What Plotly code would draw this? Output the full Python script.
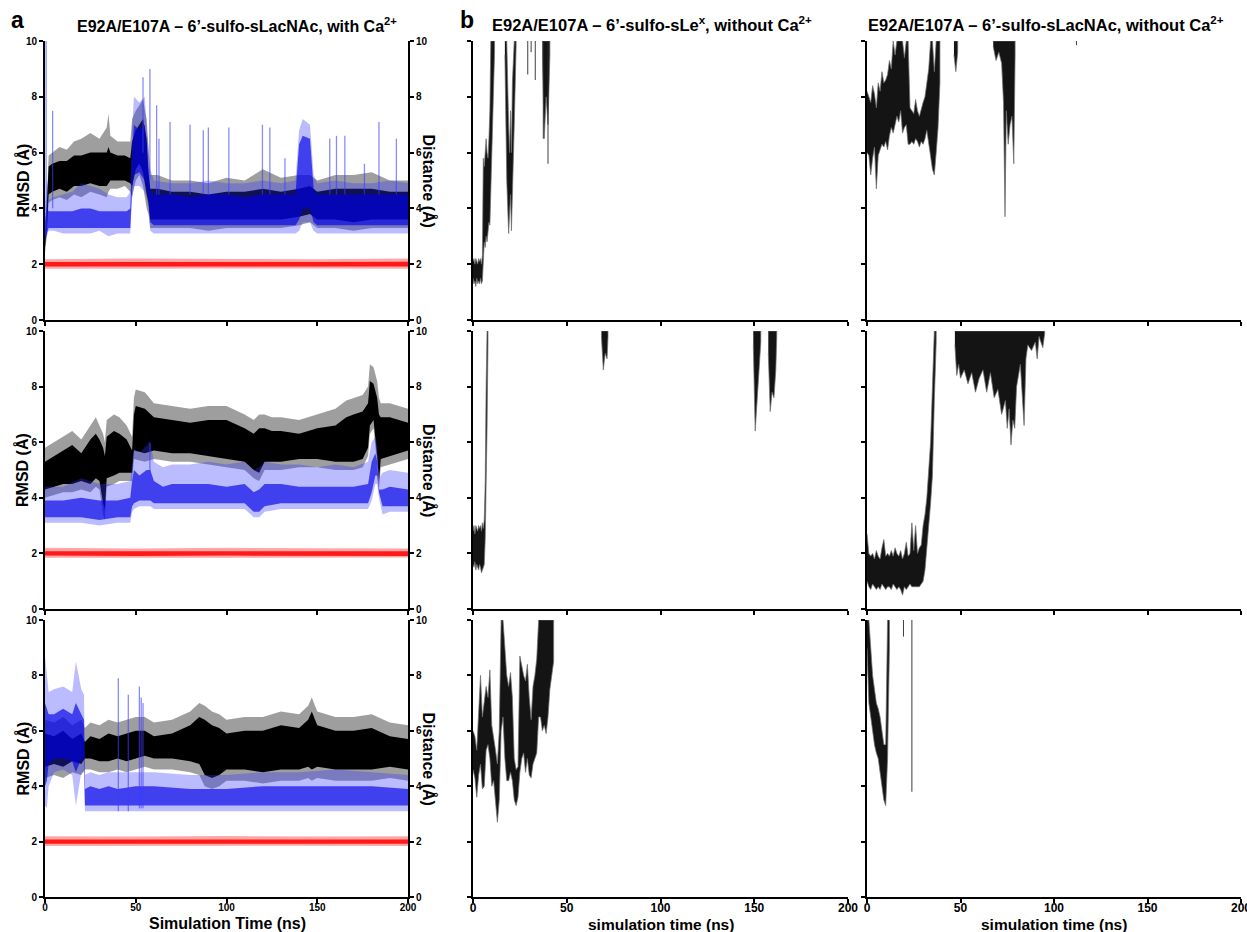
import plotly.graph_objects as go

W, H = 1247, 932

# ---------------- DATA ----------------
# Panel a, row 1
A1_BLACK_T = [0, 1, 2, 4, 8, 12, 16, 20, 25, 30, 34, 35, 36, 40, 44, 47, 48, 50, 52, 54, 56, 57, 58, 62, 70, 80, 90, 100, 110, 120, 130, 140, 146, 150, 160, 170, 180, 190, 200]
A1_BLACK_LO = [2.4, 3.0, 4.2, 4.3, 4.4, 4.3, 4.5, 4.4, 4.6, 4.5, 4.4, 4.6, 4.7, 4.7, 4.8, 4.6, 4.4, 5.0, 5.2, 4.8, 4.0, 3.8, 3.3, 3.3, 3.3, 3.3, 3.2, 3.3, 3.3, 3.3, 3.3, 3.4, 3.5, 3.3, 3.3, 3.2, 3.3, 3.3, 3.3]
A1_BLACK_HI = [3.0, 4.2, 5.9, 6.0, 6.2, 6.1, 6.4, 6.5, 6.7, 6.5, 6.9, 7.4, 6.6, 6.4, 6.4, 6.4, 7.2, 7.5, 7.7, 7.9, 7.2, 6.0, 5.2, 5.2, 5.0, 5.0, 4.9, 5.1, 5.0, 5.4, 5.1, 5.2, 5.2, 5.0, 5.2, 5.2, 5.3, 5.0, 5.0]
A1_BLACK_CLO = [2.6, 3.3, 4.5, 4.6, 4.7, 4.6, 4.8, 4.8, 4.9, 4.8, 4.8, 4.9, 5.0, 5.0, 5.0, 4.9, 4.8, 5.4, 5.6, 5.3, 4.5, 4.2, 3.6, 3.6, 3.6, 3.6, 3.6, 3.6, 3.6, 3.6, 3.6, 3.7, 3.8, 3.6, 3.6, 3.5, 3.6, 3.6, 3.6]
A1_BLACK_CHI = [2.9, 4.0, 5.5, 5.6, 5.7, 5.7, 5.9, 5.9, 6.0, 6.0, 6.0, 6.2, 6.0, 5.9, 5.9, 5.8, 6.4, 6.8, 7.0, 7.2, 6.5, 5.3, 4.7, 4.7, 4.6, 4.6, 4.5, 4.6, 4.6, 4.7, 4.6, 4.7, 4.8, 4.6, 4.7, 4.7, 4.7, 4.6, 4.6]

A1_BLUE_T = [0, 1, 2, 5, 10, 15, 20, 25, 30, 35, 40, 45, 47, 48, 49, 52, 55, 56, 57, 58, 60, 70, 80, 90, 100, 110, 120, 130, 138, 140, 142, 146, 148, 150, 160, 170, 180, 190, 200]
A1_BLUE_LO = [2.8, 3.0, 3.2, 3.2, 3.1, 3.1, 3.1, 3.1, 3.2, 3.0, 3.1, 3.1, 3.1, 4.4, 4.8, 4.8, 4.6, 4.4, 4.0, 3.2, 3.1, 3.1, 3.1, 3.1, 3.1, 3.1, 3.1, 3.1, 3.1, 3.2, 3.5, 3.5, 3.2, 3.1, 3.1, 3.1, 3.1, 3.1, 3.1]
A1_BLUE_HI = [4.0, 5.0, 4.3, 4.4, 4.5, 4.6, 4.9, 4.8, 4.7, 4.5, 4.4, 4.4, 4.6, 6.8, 8.0, 7.8, 8.0, 6.8, 6.0, 5.4, 5.0, 4.9, 4.9, 5.0, 4.9, 4.9, 5.0, 4.9, 5.0, 6.8, 7.2, 7.0, 5.2, 4.9, 5.0, 4.9, 4.9, 5.0, 4.9]
A1_BLUE_CLO = [2.9, 3.1, 3.3, 3.3, 3.3, 3.3, 3.3, 3.3, 3.3, 3.3, 3.3, 3.3, 3.3, 4.7, 5.2, 5.3, 5.0, 4.7, 4.3, 3.5, 3.4, 3.4, 3.4, 3.4, 3.4, 3.4, 3.4, 3.4, 3.4, 3.6, 4.0, 4.0, 3.5, 3.4, 3.4, 3.4, 3.4, 3.4, 3.4]
A1_BLUE_CHI = [3.6, 4.0, 3.9, 3.9, 3.9, 3.9, 4.0, 4.0, 3.9, 3.9, 3.9, 3.9, 4.0, 6.0, 7.0, 6.8, 7.0, 6.0, 5.3, 4.6, 4.5, 4.5, 4.4, 4.5, 4.5, 4.4, 4.5, 4.5, 4.5, 6.3, 6.6, 6.5, 4.7, 4.5, 4.5, 4.5, 4.5, 4.5, 4.5]
A1_SPIKE_T = [0.6, 4.2, 54.0, 57.8, 61.5, 62.8, 68.9, 79.9, 87.2, 90.0, 101.3, 119.8, 123.9, 132.2, 156.9, 160.6, 165.2, 176.0, 184.0, 193.6]
A1_SPIKE_LO = [3.0, 4.0, 6.0, 5.0, 4.5, 4.5, 4.5, 4.5, 4.5, 4.5, 4.5, 4.5, 4.5, 4.5, 4.5, 4.5, 4.5, 4.5, 4.5, 4.5]
A1_SPIKE_HI = [10.0, 7.5, 8.7, 9.0, 7.7, 6.5, 7.1, 7.0, 6.8, 6.9, 6.9, 7.0, 6.9, 5.8, 6.5, 6.6, 6.6, 5.6, 7.1, 6.5]

A1_RED_T = [0, 50, 100, 150, 200]
A1_RED_LO = [1.84, 1.85, 1.84, 1.85, 1.84]
A1_RED_HI = [2.18, 2.2, 2.19, 2.18, 2.2]
A1_RED_CLO = [1.92, 1.92, 1.91, 1.92, 1.92]
A1_RED_CHI = [2.08, 2.09, 2.08, 2.08, 2.09]

# Panel a, row 2
A2_BLACK_T = [0, 5, 10, 15, 20, 25, 28, 30, 32, 33, 34, 38, 41, 45, 48, 49, 50, 55, 60, 70, 80, 90, 100, 110, 115, 118, 121, 125, 130, 140, 150, 160, 166, 170, 175, 178, 179, 181, 183, 184, 185, 190, 195, 200]
A2_BLACK_LO = [4.0, 4.1, 4.2, 4.2, 4.3, 4.2, 4.4, 4.3, 3.4, 3.2, 4.4, 4.5, 4.6, 4.6, 4.6, 5.4, 5.4, 5.3, 5.4, 5.3, 5.3, 5.2, 5.1, 5.0, 4.7, 4.6, 5.0, 5.0, 5.0, 5.1, 5.1, 5.0, 5.0, 5.0, 5.1, 5.5, 6.3, 6.5, 5.2, 4.3, 5.1, 5.2, 5.3, 5.4]
A2_BLACK_HI = [5.8, 6.0, 6.2, 6.4, 6.1, 6.6, 6.9, 6.6, 6.3, 6.0, 6.8, 7.0, 6.9, 6.6, 6.2, 7.6, 7.9, 7.8, 7.4, 7.3, 7.2, 7.3, 7.3, 7.0, 6.8, 7.0, 7.0, 6.9, 6.9, 6.8, 7.0, 7.2, 7.5, 7.6, 7.7, 8.0, 8.8, 8.7, 8.2, 7.6, 7.4, 7.4, 7.3, 7.2]
A2_BLACK_CLO = [4.3, 4.4, 4.5, 4.5, 4.6, 4.5, 4.7, 4.6, 3.8, 3.6, 4.7, 4.8, 4.9, 4.9, 4.9, 5.7, 5.7, 5.6, 5.7, 5.6, 5.6, 5.5, 5.4, 5.3, 5.0, 4.9, 5.3, 5.3, 5.3, 5.4, 5.4, 5.3, 5.3, 5.3, 5.4, 5.8, 6.6, 6.8, 5.5, 4.6, 5.4, 5.5, 5.6, 5.7]
A2_BLACK_CHI = [5.3, 5.5, 5.7, 5.9, 5.6, 6.1, 6.3, 6.1, 5.8, 5.5, 6.2, 6.4, 6.3, 6.1, 5.7, 7.0, 7.3, 7.2, 6.9, 6.8, 6.7, 6.8, 6.8, 6.5, 6.3, 6.5, 6.5, 6.4, 6.4, 6.3, 6.5, 6.6, 6.9, 7.0, 7.1, 7.4, 8.2, 8.1, 7.6, 7.0, 6.9, 6.9, 6.8, 6.7]

A2_BLUE_T = [0, 10, 20, 30, 40, 47, 48, 49, 52, 56, 58, 60, 65, 70, 80, 90, 100, 110, 115, 118, 121, 130, 140, 150, 160, 170, 178, 180, 182, 183, 184, 186, 190, 200]
A2_BLUE_LO = [3.1, 3.1, 3.1, 3.0, 3.1, 3.1, 3.5, 3.6, 3.7, 3.7, 3.7, 3.6, 3.6, 3.6, 3.6, 3.6, 3.6, 3.6, 3.3, 3.3, 3.5, 3.6, 3.6, 3.6, 3.6, 3.6, 3.6, 3.9, 4.5, 4.5, 4.0, 3.4, 3.5, 3.5]
A2_BLUE_HI = [4.4, 4.4, 4.7, 4.5, 4.5, 4.6, 5.3, 5.8, 5.6, 5.9, 6.0, 5.3, 5.1, 5.2, 5.2, 5.3, 5.2, 5.3, 5.0, 5.1, 5.3, 5.2, 5.2, 5.1, 5.2, 5.1, 5.3, 6.0, 6.2, 5.9, 4.7, 4.9, 5.0, 4.9]
A2_BLUE_CLO = [3.3, 3.3, 3.3, 3.2, 3.3, 3.3, 3.7, 3.8, 3.9, 3.9, 3.9, 3.8, 3.8, 3.8, 3.8, 3.8, 3.8, 3.8, 3.5, 3.5, 3.7, 3.8, 3.8, 3.8, 3.8, 3.8, 3.8, 4.2, 4.8, 4.8, 4.2, 3.7, 3.7, 3.7]
A2_BLUE_CHI = [3.9, 3.9, 4.0, 3.9, 3.9, 4.0, 4.6, 5.0, 4.8, 5.0, 5.0, 4.6, 4.4, 4.5, 4.5, 4.5, 4.4, 4.5, 4.2, 4.3, 4.5, 4.5, 4.4, 4.4, 4.4, 4.4, 4.5, 5.3, 5.6, 5.3, 4.3, 4.3, 4.4, 4.3]
A2_SPIKE_T = [57.8]
A2_SPIKE_LO = [4.5]
A2_SPIKE_HI = [6.0]

A2_RED_T = [0, 50, 100, 150, 200]
A2_RED_LO = [1.84, 1.84, 1.85, 1.84, 1.85]
A2_RED_HI = [2.2, 2.18, 2.2, 2.19, 2.18]
A2_RED_CLO = [1.92, 1.91, 1.92, 1.92, 1.91]
A2_RED_CHI = [2.08, 2.08, 2.09, 2.08, 2.08]

# Panel a, row 3
A3_BLACK_T = [0, 5, 10, 15, 20, 22, 25, 30, 35, 40, 45, 50, 55, 60, 70, 80, 85, 88, 92, 96, 100, 110, 120, 130, 140, 145, 147, 150, 160, 170, 180, 190, 200]
A3_BLACK_LO = [4.3, 4.4, 4.3, 4.5, 4.4, 4.6, 4.6, 4.5, 4.5, 4.6, 4.5, 4.6, 4.7, 4.6, 4.6, 4.5, 4.4, 4.0, 3.9, 4.0, 4.2, 4.2, 4.1, 4.2, 4.2, 4.3, 4.2, 4.3, 4.2, 4.2, 4.2, 4.3, 4.2]
A3_BLACK_HI = [6.4, 6.3, 6.5, 6.2, 6.4, 6.1, 6.3, 6.2, 6.4, 6.3, 6.4, 6.5, 6.5, 6.3, 6.4, 6.7, 7.0, 6.9, 6.7, 6.6, 6.4, 6.5, 6.5, 6.7, 6.6, 6.9, 7.2, 6.7, 6.5, 6.5, 6.6, 6.3, 6.2]
A3_BLACK_CLO = [4.7, 4.8, 4.7, 4.9, 4.8, 5.0, 5.0, 4.9, 4.9, 5.0, 4.9, 5.0, 5.1, 5.0, 5.0, 4.9, 4.8, 4.4, 4.3, 4.4, 4.6, 4.6, 4.5, 4.6, 4.6, 4.7, 4.6, 4.7, 4.6, 4.6, 4.6, 4.7, 4.6]
A3_BLACK_CHI = [5.9, 5.8, 6.0, 5.7, 5.9, 5.6, 5.8, 5.7, 5.9, 5.8, 5.9, 6.0, 6.0, 5.8, 5.9, 6.2, 6.5, 6.4, 6.2, 6.1, 5.9, 6.0, 6.0, 6.2, 6.1, 6.4, 6.7, 6.2, 6.0, 6.0, 6.1, 5.8, 5.7]

A3_BLUE_T = [0, 1, 2, 5, 10, 15, 17, 20, 21.5, 22, 25, 30, 35, 40, 50, 60, 80, 100, 120, 140, 160, 180, 200]
A3_BLUE_LO = [3.3, 3.2, 4.0, 4.5, 4.6, 4.4, 3.3, 4.5, 4.5, 3.1, 3.1, 3.1, 3.1, 3.1, 3.1, 3.1, 3.1, 3.1, 3.1, 3.1, 3.1, 3.1, 3.1]
A3_BLUE_HI = [8.7, 8.0, 7.4, 7.5, 7.6, 7.4, 8.5, 7.5, 7.3, 4.4, 4.5, 4.4, 4.5, 4.5, 4.5, 4.5, 4.4, 4.4, 4.5, 4.5, 4.6, 4.5, 4.4]
A3_BLUE_CLO = [4.0, 4.2, 4.8, 5.0, 5.0, 4.9, 4.5, 5.0, 5.0, 3.3, 3.3, 3.3, 3.3, 3.3, 3.3, 3.3, 3.3, 3.3, 3.3, 3.3, 3.3, 3.3, 3.3]
A3_BLUE_CHI = [7.0, 6.8, 6.6, 6.6, 6.8, 6.6, 7.0, 6.6, 6.4, 3.9, 4.0, 3.9, 4.0, 3.9, 4.0, 4.0, 3.9, 3.9, 4.0, 4.0, 4.0, 4.0, 3.9]
A3_SPIKE_T = [40.4, 45.9, 52.0, 53.0, 54.0]
A3_SPIKE_LO = [3.1, 3.1, 3.2, 3.2, 3.2]
A3_SPIKE_HI = [7.9, 7.3, 7.6, 7.2, 7.0]

A3_RED_T = [0, 50, 100, 150, 200]
A3_RED_LO = [1.84, 1.85, 1.84, 1.85, 1.84]
A3_RED_HI = [2.19, 2.18, 2.2, 2.18, 2.19]
A3_RED_CLO = [1.92, 1.92, 1.91, 1.92, 1.92]
A3_RED_CHI = [2.08, 2.08, 2.08, 2.09, 2.08]

# Panel b, 6'-sulfo-sLex (None separates disjoint pieces of the trace)
B1_T = [0, 0.5, 1, 1.5, 2, 2.5, 3, 3.5, 4, 4.5, 5, 5.5, 6, 6.5, 7, 7.5, 8, 8.5, 9, 9.5, 10, 10.5, 11, 11.5, None,
        17, 18, 19, 19.5, 20, 20.5, 21, 22, 23, None,
        37, 38, 39, 40, 41]
B1_LO = [1.5, 1.3, 1.4, 1.2, 1.5, 1.3, 1.4, 1.3, 1.5, 1.3, 1.4, 2.0, 2.8, 2.6, 3.0, 2.8, 3.2, 3.5, 3.4, 4.6, 5.5, 7.0, 8.5, 9.6, None,
         9.5, 5.0, 3.1, 3.5, 4.5, 3.2, 4.5, 7.0, 9.8, None,
         9.5, 6.5, 8.0, 7.0, 9.5]
B1_HI = [2.1, 2.2, 2.0, 2.2, 2.1, 2.0, 2.2, 2.1, 2.2, 2.0, 2.3, 5.8, 5.5, 6.2, 6.5, 6.0, 5.8, 6.5, 7.5, 10, 10, 10, 10, 10, None,
         10, 10, 7.0, 6.0, 7.5, 6.0, 8.5, 10, 10, None,
         10, 10, 10, 10, 10]
B1_SPIKE_T = [29.2, 31.0, 33.2, 37.5, 40.0]
B1_SPIKE_LO = [8.8, 9.6, 8.6, 6.5, 5.6]
B1_SPIKE_HI = [10, 10, 10, 10, 10]

B2_T = [0, 0.5, 1, 1.5, 2, 2.5, 3, 3.5, 4, 4.5, 5, 5.5, 6, 6.5, 7, 7.5, 8, None,
        68.5, 69.5, 70.5, 71.5, 72, None,
        149.5, 150.5, 151.5, 152.5, 153.5, None,
        157.5, 158.5, 159.5, 160.5, 161.5, 162]
B2_LO = [1.6, 1.5, 1.7, 1.4, 1.6, 1.5, 1.4, 1.6, 1.5, 1.3, 1.4, 1.5, 1.6, 2.5, 4.0, 6.5, 9.6, None,
         9.8, 8.6, 9.2, 9.0, 9.8, None,
         9.5, 6.4, 7.3, 8.5, 9.6, None,
         9.2, 7.1, 7.8, 7.6, 8.6, 9.8]
B2_HI = [2.8, 3.0, 2.7, 3.0, 2.9, 2.8, 3.0, 2.9, 3.0, 2.8, 3.1, 2.9, 3.2, 4.5, 8.0, 10, 10, None,
         10, 10, 10, 10, 10, None,
         10, 10, 10, 10, 10, None,
         10, 10, 10, 10, 10, 10]

B3_T = [0, 1, 2, 3, 4, 5, 6, 7, 8, 9, 10, 11, 12, 13, 14, 15, 16, 17, 18, 19, 20, 21, 22, 23, 24, 25, 26, 27, 28, 29, 30, 31, 32, 33, 34, 35, 36, 37, 38, 39, 40, 41, 42, 43]
B3_LO = [4.6, 4.3, 3.6, 4.4, 4.8, 3.9, 4.0, 5.3, 5.5, 5.0, 4.0, 4.2, 3.5, 2.7, 3.5, 6.0, 6.5, 5.0, 4.2, 4.2, 4.5, 4.2, 3.5, 3.3, 3.6, 4.5, 5.0, 5.2, 4.5, 5.0, 4.4, 4.3, 4.8, 5.0, 5.2, 6.5, 6.5, 6.0, 6.2, 5.9, 6.5, 7.5, 8.0, 8.5]
B3_HI = [6.0, 5.8, 5.3, 6.5, 8.0, 6.5, 7.0, 7.6, 7.2, 8.2, 6.2, 5.8, 5.3, 4.8, 6.0, 10, 10, 9.0, 8.0, 7.6, 8.1, 7.2, 5.0, 4.6, 4.7, 8.7, 8.3, 8.0, 7.8, 8.4, 7.2, 6.4, 7.6, 8.0, 8.6, 10, 10, 10, 10, 10, 10, 10, 10, 10]

# Panel b, 6'-sulfo-sLacNAc without Ca2+
B4_T = [0, 1, 2, 3, 4, 5, 6, 7, 8, 9, 10, 11, 12, 13, 14, 15, 16, 17, 18, 19, 20, 21, 22, 23, 24, 25, 26, 27, 28, 29, 30, 31, 32, 33, 34, 35, 36, 37, 38, 39, None,
        46.5, 47.5, 48.5, None,
        67.5, 69, 70.5, 72, 73, 73.8, 74.5, 75.5, 76.5, 77.5, 78.5, 79.2]
B4_LO = [6.0, 5.9, 5.2, 5.8, 6.2, 4.7, 5.9, 6.1, 6.3, 6.2, 6.4, 6.1, 6.6, 6.9, 6.7, 7.0, 7.3, 7.1, 7.5, 6.7, 6.9, 7.0, 6.3, 6.3, 6.4, 6.3, 6.5, 6.4, 6.2, 6.4, 6.3, 6.5, 6.8, 6.4, 5.9, 5.4, 5.2, 6.0, 6.9, 8.5, None,
         9.5, 8.9, 9.6, None,
         9.8, 9.3, 9.6, 9.2, 7.8, 3.7, 7.5, 6.3, 7.0, 7.3, 5.6, 9.5]
B4_HI = [8.2, 8.0, 7.8, 8.4, 8.1, 7.6, 8.5, 8.2, 8.9, 8.5, 8.6, 8.8, 9.3, 9.0, 10, 9.5, 10, 10, 10, 10, 9.4, 10, 10, 7.6, 7.5, 7.4, 7.9, 7.5, 7.3, 7.6, 7.8, 8.0, 8.6, 9.0, 10, 10, 8.9, 10, 10, 10, None,
         10, 10, 10, None,
         10, 10, 10, 10, 10, 10, 10, 10, 10, 10, 10, 10]
B4_SPIKE_T = [112.0]
B4_SPIKE_LO = [9.85]
B4_SPIKE_HI = [10]

B5_T = [0, 1, 2, 3, 4, 5, 6, 7, 8, 9, 10, 11, 12, 13, 14, 15, 16, 17, 18, 19, 20, 21, 22, 23, 24, 25, 26, 27, 28, 29, 30, 31, 32, 33, 34, 35, 36, 37, None,
        47, 48, 49, 50, 52, 54, 56, 58, 60, 62, 64, 66, 68, 70, 72, 74, 75, 76, 77, 78, 79, 80, 82, 84, 85, 86, 88, 90, 91, 92, 94, 95]
B5_LO = [1.0, 0.8, 0.7, 0.9, 0.8, 0.7, 0.8, 0.7, 0.9, 0.8, 0.7, 0.8, 0.8, 0.7, 0.9, 0.8, 0.7, 0.8, 0.7, 0.5, 0.8, 0.7, 0.8, 0.9, 0.8, 0.8, 0.8, 0.8, 0.8, 0.9, 1.0, 1.4, 2.2, 3.0, 3.8, 4.8, 7.5, 9.6, None,
         9.5, 8.4, 8.8, 8.3, 8.6, 8.1, 8.5, 7.8, 8.3, 8.6, 7.8, 8.5, 7.6, 7.9, 7.0, 7.5, 6.5, 7.2, 5.9, 6.8, 6.5, 8.0, 8.8, 6.6, 9.0, 9.5, 9.3, 9.6, 9.0, 9.8, 9.4, 9.9]
B5_HI = [2.7, 2.0, 1.9, 2.0, 1.8, 2.1, 1.9, 1.8, 2.2, 2.5, 1.9, 2.0, 1.9, 2.1, 1.9, 2.2, 2.0, 1.9, 2.1, 1.8, 2.0, 2.4, 1.9, 2.0, 3.1, 2.1, 3.0, 2.0, 2.2, 2.3, 3.0, 3.4, 4.0, 5.2, 6.0, 8.0, 10, 10, None,
         10, 10, 10, 10, 10, 10, 10, 10, 10, 10, 10, 10, 10, 10, 10, 10, 10, 10, 10, 10, 10, 10, 10, 10, 10, 10, 10, 10, 10, 10, 10, 10]

B6_T = [0, 1, 2, 3, 4, 5, 6, 7, 8, 9, 10, 11, 12]
B6_LO = [9.0, 7.0, 6.5, 6.0, 5.5, 5.2, 5.0, 4.5, 4.0, 3.5, 3.3, 5.0, 9.0]
B6_HI = [10, 10, 9.0, 8.0, 7.5, 7.0, 6.8, 6.5, 6.0, 5.5, 5.5, 10, 10]
B6_SPIKE_T = [19.5, 24.0]
B6_SPIKE_LO = [9.4, 3.8]
B6_SPIKE_HI = [10, 10]

X_TICKS = [0, 50, 100, 150, 200]
Y_TICKS = [0, 2, 4, 6, 8, 10]

# ---------------- LAYOUT GEOMETRY (pixels) ----------------
COL_A = (45, 408)
COL_B1 = (473, 848)
COL_B2 = (867, 1241)
ROWS = [(41, 320), (331, 609), (620, 897)]

FONT_A = "Liberation Sans, Arial, sans-serif"
FONT_B = "Liberation Sans, Arial, sans-serif"

BLACK_OUT = "rgba(0,0,0,0.38)"
BLACK_CORE = "rgba(0,0,0,1)"
BLUE_OUT = "rgba(50,50,255,0.33)"
BLUE_CORE = "rgba(0,0,230,0.66)"
BLUE_SPIKE = "rgba(60,60,255,0.6)"
RED_OUT = "rgba(255,0,0,0.35)"
RED_CORE = "rgba(255,0,0,0.85)"


def dx(p):
    return p / W


def dy(p):
    return 1 - p / H


def band_xy(T, LO, HI):
    segs, cur = [], ([], [], [])
    for t, lo, hi in zip(T, LO, HI):
        if t is None:
            segs.append(cur)
            cur = ([], [], [])
        else:
            cur[0].append(t); cur[1].append(lo); cur[2].append(hi)
    segs.append(cur)
    xs, ys = [], []
    for ts, los, his in segs:
        if not ts:
            continue
        xs += ts + ts[::-1] + [None]
        ys += his + los[::-1] + [None]
    return xs, ys


def spike_xy(T, LO, HI):
    xs, ys = [], []
    for t, lo, hi in zip(T, LO, HI):
        xs += [t, t, None]
        ys += [lo, hi, None]
    return xs, ys


fig = go.Figure()


def add_band(xr, yr, T, LO, HI, fill, lw=0, lc="rgba(0,0,0,0)"):
    xs, ys = band_xy(T, LO, HI)
    fig.add_trace(go.Scatter(x=xs, y=ys, xaxis=xr, yaxis=yr, mode="lines", fill="toself",
                             fillcolor=fill, line=dict(width=lw, color=lc),
                             hoverinfo="skip", showlegend=False))


def add_spikes(xr, yr, T, LO, HI, color, width):
    xs, ys = spike_xy(T, LO, HI)
    fig.add_trace(go.Scatter(x=xs, y=ys, xaxis=xr, yaxis=yr, mode="lines",
                             line=dict(width=width, color=color),
                             hoverinfo="skip", showlegend=False))


A_ROWS = [
    (A1_BLACK_T, A1_BLACK_LO, A1_BLACK_HI, A1_BLACK_CLO, A1_BLACK_CHI,
     A1_BLUE_T, A1_BLUE_LO, A1_BLUE_HI, A1_BLUE_CLO, A1_BLUE_CHI,
     A1_SPIKE_T, A1_SPIKE_LO, A1_SPIKE_HI,
     A1_RED_T, A1_RED_LO, A1_RED_HI, A1_RED_CLO, A1_RED_CHI),
    (A2_BLACK_T, A2_BLACK_LO, A2_BLACK_HI, A2_BLACK_CLO, A2_BLACK_CHI,
     A2_BLUE_T, A2_BLUE_LO, A2_BLUE_HI, A2_BLUE_CLO, A2_BLUE_CHI,
     A2_SPIKE_T, A2_SPIKE_LO, A2_SPIKE_HI,
     A2_RED_T, A2_RED_LO, A2_RED_HI, A2_RED_CLO, A2_RED_CHI),
    (A3_BLACK_T, A3_BLACK_LO, A3_BLACK_HI, A3_BLACK_CLO, A3_BLACK_CHI,
     A3_BLUE_T, A3_BLUE_LO, A3_BLUE_HI, A3_BLUE_CLO, A3_BLUE_CHI,
     A3_SPIKE_T, A3_SPIKE_LO, A3_SPIKE_HI,
     A3_RED_T, A3_RED_LO, A3_RED_HI, A3_RED_CLO, A3_RED_CHI),
]

B_PANELS = [
    (B1_T, B1_LO, B1_HI, B1_SPIKE_T, B1_SPIKE_LO, B1_SPIKE_HI),
    (B2_T, B2_LO, B2_HI, [], [], []),
    (B3_T, B3_LO, B3_HI, [], [], []),
    (B4_T, B4_LO, B4_HI, B4_SPIKE_T, B4_SPIKE_LO, B4_SPIKE_HI),
    (B5_T, B5_LO, B5_HI, [], [], []),
    (B6_T, B6_LO, B6_HI, B6_SPIKE_T, B6_SPIKE_LO, B6_SPIKE_HI),
]


def ref(prefix, i):
    return prefix if i == 1 else f"{prefix}{i}"


def lay(prefix, i):
    return f"{prefix}axis" if i == 1 else f"{prefix}axis{i}"


layout_axes = {}


def base_axis(font, size):
    return dict(showline=True, linecolor="black", linewidth=2, ticks="outside",
                ticklen=4, tickwidth=1.5, tickcolor="black", showgrid=False,
                zeroline=False, ticklabeloverflow="allow",
                tickfont=dict(family=font, size=size, color="black", weight="bold"))


# Panel a
for r in range(3):
    xi, yi, yri = r + 1, r + 1, r + 4
    d = ROWS[r]
    xa = base_axis(FONT_A, 10)
    xa.update(domain=[dx(COL_A[0]), dx(COL_A[1])], anchor=ref("y", yi), range=[0, 200],
              tickvals=X_TICKS, showticklabels=(r == 2), ticklabelstandoff=-4)
    ya = base_axis(FONT_A, 10)
    ya.update(domain=[dy(d[1]), dy(d[0])], anchor=ref("x", xi), range=[0, 10], tickvals=Y_TICKS)
    yr = base_axis(FONT_A, 10)
    yr.update(overlaying=ref("y", yi), side="right", anchor=ref("x", xi), range=[0, 10], tickvals=Y_TICKS)
    layout_axes[lay("x", xi)] = xa
    layout_axes[lay("y", yi)] = ya
    layout_axes[lay("y", yri)] = yr

    (bt, blo, bhi, bclo, bchi, ut, ulo, uhi, uclo, uchi, st, slo, shi,
     rt, rlo, rhi, rclo, rchi) = A_ROWS[r]
    xr_, yr_ = ref("x", xi), ref("y", yi)
    add_band(xr_, yr_, bt, blo, bhi, BLACK_OUT)
    add_band(xr_, yr_, bt, bclo, bchi, BLACK_CORE)
    add_band(xr_, yr_, ut, ulo, uhi, BLUE_OUT)
    add_band(xr_, yr_, ut, uclo, uchi, BLUE_CORE)
    add_spikes(xr_, yr_, st, slo, shi, BLUE_SPIKE, 1.3)
    add_band(xr_, yr_, rt, rlo, rhi, RED_OUT)
    add_band(xr_, yr_, rt, rclo, rchi, RED_CORE)
    fig.add_trace(go.Scatter(x=[None], y=[None], xaxis=xr_, yaxis=ref("y", yri),
                             hoverinfo="skip", showlegend=False))

# Panel b
for c, col in enumerate([COL_B1, COL_B2]):
    for r in range(3):
        k = c * 3 + r
        xi = 4 + k
        yi = 7 + k
        d = ROWS[r]
        xa = base_axis(FONT_B, 12)
        xa.update(domain=[dx(col[0]), dx(col[1])], anchor=ref("y", yi), range=[0, 200],
                  tickvals=X_TICKS, showticklabels=(r == 2), ticklabelstandoff=-5)
        ya = base_axis(FONT_B, 12)
        ya.update(domain=[dy(d[1]), dy(d[0])], anchor=ref("x", xi), range=[0, 10],
                  tickvals=Y_TICKS, showticklabels=False)
        layout_axes[lay("x", xi)] = xa
        layout_axes[lay("y", yi)] = ya
        T, LO, HI, ST, SLO, SHI = B_PANELS[k]
        add_band(ref("x", xi), ref("y", yi), T, LO, HI, "rgba(0,0,0,0.92)", 0.8, "rgba(110,110,110,0.9)")
        if ST:
            add_spikes(ref("x", xi), ref("y", yi), ST, SLO, SHI, "rgba(40,40,40,0.9)", 1)

ann = []
ann.append(dict(text="<b>a</b>", x=dx(9), y=dy(20), xanchor="left", yanchor="middle",
                font=dict(family=FONT_A, size=23, color="black")))
ann.append(dict(text="<b>b</b>", x=dx(458), y=dy(20), xanchor="left", yanchor="middle",
                font=dict(family=FONT_B, size=23, color="black")))
ann.append(dict(text="<b>E92A/E107A – 6’-sulfo-sLacNAc, with Ca<sup>2+</sup></b>", x=dx(237), y=dy(25),
                xanchor="center", yanchor="middle", font=dict(family=FONT_A, size=16, color="black")))
ann.append(dict(text="<b>E92A/E107A – 6’-sulfo-sLe<sup>x</sup>, without Ca<sup>2+</sup></b>", x=dx(652), y=dy(24),
                xanchor="center", yanchor="middle", font=dict(family=FONT_B, size=16.5, color="black")))
ann.append(dict(text="<b>E92A/E107A – 6’-sulfo-sLacNAc, without Ca<sup>2+</sup></b>", x=dx(1046), y=dy(24),
                xanchor="center", yanchor="middle", font=dict(family=FONT_B, size=16.5, color="black")))
for r in range(3):
    cy = (ROWS[r][0] + ROWS[r][1]) / 2
    ann.append(dict(text="<b>RMSD (Å)</b>", x=dx(22), y=dy(cy), textangle=-90,
                    xanchor="center", yanchor="middle", font=dict(family=FONT_A, size=16, color="black")))
    ann.append(dict(text="<b>Distance (Å)</b>", x=dx(429), y=dy(cy), textangle=90,
                    xanchor="center", yanchor="middle", font=dict(family=FONT_A, size=16, color="black")))
ann.append(dict(text="<b>Simulation Time (ns)</b>", x=dx(227), y=dy(923), xanchor="center", yanchor="middle",
                font=dict(family=FONT_A, size=16, color="black")))
for col in (COL_B1, COL_B2):
    ann.append(dict(text="<b>simulation time (ns)</b>", x=dx((col[0] + col[1]) / 2), y=dy(924),
                    xanchor="center", yanchor="middle", font=dict(family=FONT_B, size=15.5, color="black")))
for a in ann:
    a.update(xref="paper", yref="paper", showarrow=False)

fig.update_layout(width=W, height=H, margin=dict(l=0, r=0, t=0, b=0, autoexpand=False),
                  paper_bgcolor="white", plot_bgcolor="rgba(0,0,0,0)", showlegend=False,
                  annotations=ann, **layout_axes)

fig.write_html("out.html")
